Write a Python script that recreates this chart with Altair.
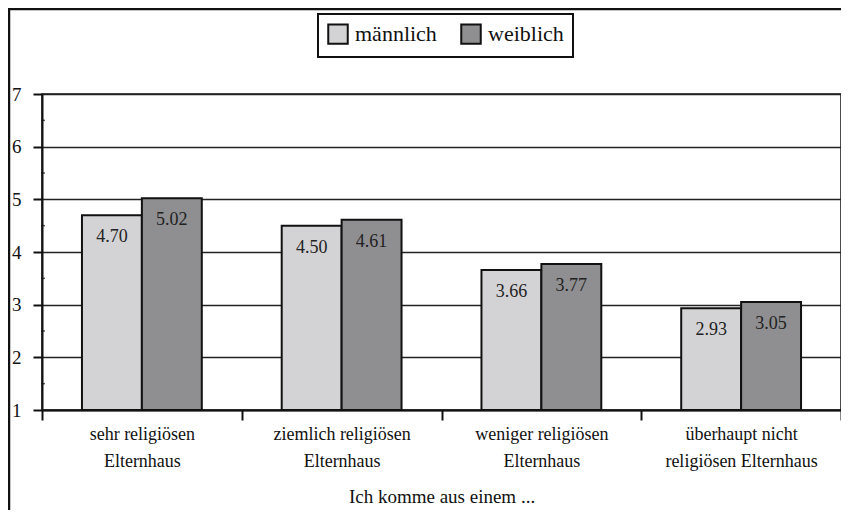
import altair as alt
import pandas as pd

categories = ["sehr religiösen\nElternhaus", "ziemlich religiösen\nElternhaus",
              "weniger religiösen\nElternhaus", "überhaupt nicht\nreligiösen Elternhaus"]
groups = ["männlich", "weiblich"]
male = [4.70, 4.50, 3.66, 2.93]
female = [5.02, 4.61, 3.77, 3.05]
colors = ["#d3d3d5", "#8f8f91"]
minor_ticks = [1.5, 2.5, 3.5, 4.5, 5.5, 6.5]

rows = []
for c, m, f in zip(categories, male, female):
    rows.append({"cat": c, "g": groups[0], "v": m})
    rows.append({"cat": c, "g": groups[1], "v": f})
df = pd.DataFrame(rows)

FONT = "'Liberation Serif', 'Times New Roman', serif"

x = alt.X("cat:N", sort=categories, title="Ich komme aus einem ...",
          scale=alt.Scale(paddingInner=0, paddingOuter=0),
          axis=alt.Axis(labelAngle=0, tickBand="extent", tickSize=10, tickWidth=2,
                        tickColor="#111", domainColor="#111", domainWidth=2,
                        labelExpr="split(datum.label, '\\n')", labelLineHeight=27,
                        labelFontSize=18, labelPadding=5, labelFont=FONT, labelColor="#111",
                        titleFont=FONT, titleFontSize=19, titleFontWeight="normal",
                        titleColor="#111", titlePadding=17))
xo = alt.XOffset("g:N", sort=groups, scale=alt.Scale(paddingOuter=0.667, paddingInner=0))
y = alt.Y("v:Q", scale=alt.Scale(domain=[1, 7], nice=False, zero=False),
          axis=alt.Axis(values=[1, 2, 3, 4, 5, 6, 7], title=None, tickSize=9, tickWidth=2,
                        tickColor="#111", domainColor="#111", domainWidth=2,
                        grid=True, gridColor="#222", gridWidth=1.5,
                        labelFont=FONT, labelFontSize=19, labelColor="#111", labelPadding=12))

bars = alt.Chart(df).mark_bar(stroke="#111", strokeWidth=2).encode(
    x=x, xOffset=xo, y=y, y2=alt.datum(1),
    color=alt.Color("g:N", sort=groups, scale=alt.Scale(domain=groups, range=colors),
                    legend=alt.Legend(title=None, orient="none", direction="horizontal",
                                      legendX=276, legendY=-80, symbolType="square",
                                      symbolSize=380, symbolStrokeColor="#111",
                                      symbolStrokeWidth=2, symbolOpacity=1,
                                      labelFont=FONT, labelFontSize=22, labelColor="#111",
                                      columnPadding=20, labelOffset=6, padding=9,
                                      strokeColor="#111")),
)

labels = alt.Chart(df).mark_text(baseline="top", dy=13, font=FONT, fontSize=18,
                                  color="#222").encode(
    x=alt.X("cat:N", sort=categories), xOffset=alt.XOffset("g:N", sort=groups),
    y="v:Q", text=alt.Text("v:Q", format=".2f"))

minor = alt.Chart(pd.DataFrame({"m": minor_ticks})).mark_tick(
    orient="horizontal", size=4, thickness=1.5, color="#111").encode(
    y="m:Q", x=alt.value(1))

frame_left = alt.Chart(pd.DataFrame({"a": [0]})).mark_rule(color="#111", strokeWidth=2.5).encode(
    x=alt.value(-33), y=alt.value(-85), y2=alt.value(430))
frame_top = alt.Chart(pd.DataFrame({"a": [0]})).mark_rule(color="#111", strokeWidth=2.5).encode(
    x=alt.value(-34), x2=alt.value(810), y=alt.value(-85))

chart = alt.layer(bars, labels, minor, frame_left, frame_top).properties(
    width=799, height=316,
    autosize=alt.AutoSizeParams(type="none"),
    padding={"left": 34, "top": 86, "right": 0, "bottom": 100},
).configure_view(stroke="#111", strokeWidth=1.5).configure_legend(strokeWidth=2)

chart.save("out.html", embed_options={"renderer": "svg", "actions": False})
